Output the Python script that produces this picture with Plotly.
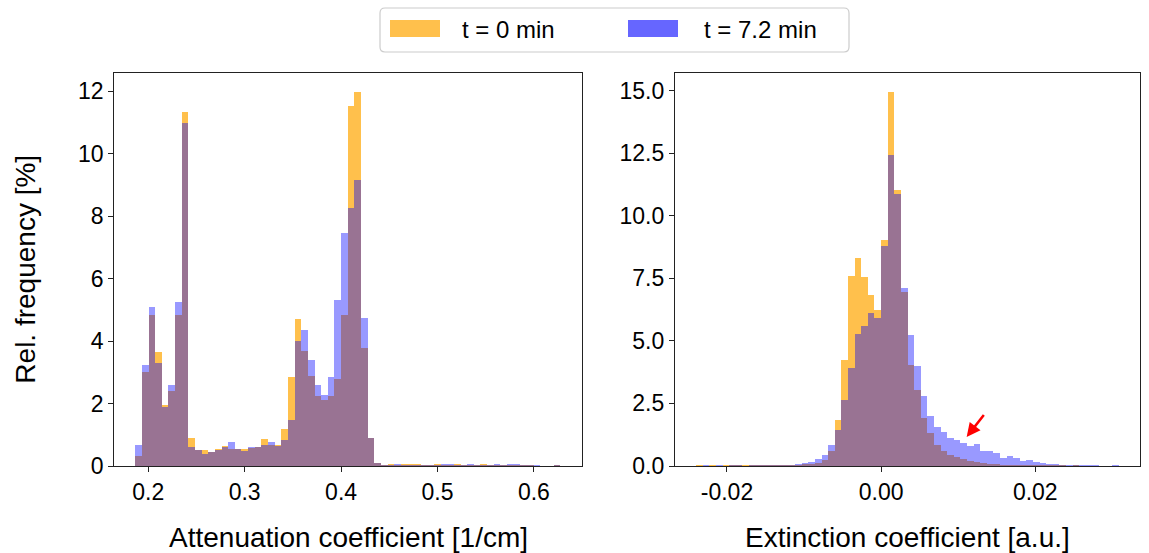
import numpy as np
import plotly.graph_objects as go

# ---------------- data ----------------
series_names = ["t = 0 min", "t = 7.2 min"]

# Left: attenuation coefficient histogram (64 bins)
att_start = 0.18683
att_width = 0.006886
att_t0 = [0.32, 3.01, 4.84, 3.63, 1.95, 2.38, 4.82, 11.33, 0.89, 0.51, 0.51, 0.45, 0.55, 0.62, 0.55, 0.52,
          0.55, 0.58, 0.60, 0.86, 0.65, 0.67, 1.17, 2.84, 4.70, 3.66, 2.86, 2.22, 2.11, 2.22, 2.78, 4.84,
          11.51, 11.98, 3.77, 0.88, 0.08, 0.02, 0.05, 0.02, 0.04, 0.04, 0.04, 0.01, 0.02, 0.04, 0.02, 0.03,
          0.04, 0.02, 0.02, 0.03, 0.07, 0.02, 0.02, 0.01, 0.01, 0.01, 0.01, 0.03, 0.0, 0.0, 0.0, 0.01]
att_t72 = [0.65, 3.22, 5.08, 3.29, 1.88, 2.59, 5.24, 10.98, 0.60, 0.51, 0.38, 0.44, 0.51, 0.60, 0.75, 0.53,
           0.48, 0.61, 0.60, 0.67, 0.75, 0.62, 0.81, 1.47, 4.01, 4.36, 3.40, 2.59, 2.27, 2.84, 5.30, 7.45,
           8.25, 9.16, 4.73, 0.90, 0.08, 0.02, 0.02, 0.04, 0.03, 0.03, 0.02, 0.01, 0.02, 0.03, 0.04, 0.04,
           0.03, 0.03, 0.04, 0.02, 0.03, 0.02, 0.04, 0.03, 0.04, 0.04, 0.02, 0.01, 0.01, 0.0, 0.0, 0.01]

# Right: extinction coefficient histogram (64 bins)
ext_start = -0.024
ext_width = 0.000857
ext_t0 = [0.01, 0.0, 0.01, 0.0, 0.01, 0.01, 0.01, 0.01, 0.01, 0.04, 0.01, 0.04, 0.02, 0.04, 0.03, 0.04,
          0.05, 0.07, 0.11, 0.21, 0.57, 1.84, 4.21, 7.56, 8.29, 7.53, 6.83, 6.23, 9.03, 14.94, 11.02, 6.92,
          4.03, 3.01, 1.90, 1.30, 0.84, 0.57, 0.44, 0.35, 0.27, 0.20, 0.13, 0.10, 0.06, 0.05, 0.04, 0.03,
          0.03, 0.02, 0.02, 0.02, 0.01, 0.01, 0.01, 0.01, 0.0, 0.01, 0.0, 0.0, 0.0, 0.0, 0.0, 0.0]
ext_t72 = [0.0, 0.01, 0.0, 0.01, 0.0, 0.01, 0.01, 0.0, 0.01, 0.01, 0.02, 0.01, 0.02, 0.02, 0.03, 0.05,
           0.10, 0.15, 0.27, 0.44, 0.84, 1.44, 2.64, 3.90, 5.27, 5.59, 6.12, 5.90, 8.79, 12.42, 10.86, 7.10,
           5.23, 4.00, 2.77, 2.00, 1.53, 1.33, 1.10, 1.04, 0.91, 0.77, 0.88, 0.60, 0.57, 0.51, 0.31, 0.39,
           0.31, 0.20, 0.24, 0.13, 0.10, 0.08, 0.05, 0.04, 0.03, 0.02, 0.02, 0.01, 0.01, 0.0, 0.0, 0.01]

att_ticks = [0.2, 0.3, 0.4, 0.5, 0.6]
att_ticklabels = ["0.2", "0.3", "0.4", "0.5", "0.6"]
att_yticks = [0, 2, 4, 6, 8, 10, 12]
ext_ticks = [-0.02, 0.0, 0.02]
ext_ticklabels = ["-0.02", "0.00", "0.02"]
ext_yticks = [0, 2.5, 5, 7.5, 10, 12.5, 15]
ext_yticklabels = ["0.0", "2.5", "5.0", "7.5", "10.0", "12.5", "15.0"]

x_titles = ["Attenuation coefficient [1/cm]", "Extinction coefficient [a.u.]"]
y_title = "Rel. frequency [%]"

# ---------------- styling ----------------
W, H = 1149, 553
FONT = "Liberation Sans, Arial, Helvetica, sans-serif"
C0 = "rgba(255,165,0,0.7)"
C1 = "rgba(0,0,255,0.4)"
L0 = "rgba(255,165,0,0.7)"
L1 = "rgba(0,0,255,0.6)"
AX = "#222222"


def pxx(x):
    return x / W


def pyy(y):
    return 1 - y / H


fig = go.Figure()


def add_hist(vals, start, width, color, name, xa, ya):
    fig.add_trace(go.Bar(
        y=vals, x0=start + width / 2, dx=width, width=width,
        marker=dict(color=color, line=dict(width=0)),
        name=name, showlegend=False, xaxis=xa, yaxis=ya, hoverinfo="x+y"))


add_hist(att_t0, att_start, att_width, C0, series_names[0], "x", "y")
add_hist(att_t72, att_start, att_width, C1, series_names[1], "x", "y")
add_hist(ext_t0, ext_start, ext_width, C0, series_names[0], "x2", "y2")
add_hist(ext_t72, ext_start, ext_width, C1, series_names[1], "x2", "y2")


def span(start, width, n, m=0.05):
    lo, hi = start, start + width * n
    d = (hi - lo) * m
    return [lo - d, hi + d]


common = dict(showgrid=False, zeroline=False, showline=True, mirror=True, linecolor=AX, linewidth=1.3,
              ticks="outside", ticklen=5, tickwidth=1.2, tickcolor=AX,
              tickfont=dict(family=FONT, size=23, color="black"), automargin=False)

ydom = [pyy(466), pyy(73.3)]
fig.update_layout(
    width=W, height=H, margin=dict(l=0, r=0, t=0, b=0),
    paper_bgcolor="white", plot_bgcolor="white",
    barmode="overlay", bargap=0, showlegend=False,
    font=dict(family=FONT, color="black"),
    xaxis=dict(domain=[pxx(114.3), pxx(581.7)], range=span(att_start, att_width, len(att_t0)),
               tickvals=att_ticks, ticktext=att_ticklabels, anchor="y", **common),
    yaxis=dict(domain=ydom, range=[0, max(max(att_t0), max(att_t72)) * 1.05],
               tickvals=att_yticks, anchor="x", **common),
    xaxis2=dict(domain=[pxx(675), pxx(1140)], range=span(ext_start, ext_width, len(ext_t0)),
                tickvals=ext_ticks, ticktext=ext_ticklabels, anchor="y2", **common),
    yaxis2=dict(domain=ydom, range=[0, max(max(ext_t0), max(ext_t72)) * 1.05],
                tickvals=ext_yticks, ticktext=ext_yticklabels, anchor="x2", **common),
)

ann = []
# axis titles
ann.append(dict(text=x_titles[0], xref="x domain", yref="paper", x=0.5, y=pyy(537),
                xanchor="center", yanchor="middle", showarrow=False, font=dict(size=28, family=FONT)))
ann.append(dict(text=x_titles[1], xref="x2 domain", yref="paper", x=0.5, y=pyy(537),
                xanchor="center", yanchor="middle", showarrow=False, font=dict(size=28, family=FONT)))
ann.append(dict(text=y_title, xref="paper", yref="y domain", x=pxx(26), y=0.5, textangle=-90,
                xanchor="center", yanchor="middle", showarrow=False, font=dict(size=28, family=FONT)))
# red arrow
ann.append(dict(text="", x=0.0111, y=1.16, ax=0.01348, ay=2.10, xref="x2", yref="y2",
                axref="x2", ayref="y2", showarrow=True, arrowhead=2, arrowsize=1.1,
                arrowwidth=2.5, arrowcolor="red", standoff=0, startstandoff=0))

# legend (manual, wide swatches like the reference)
shapes = []
x0, x1, y0, y1 = pxx(380), pxx(849), pyy(52), pyy(8)
rx, ry = 5 / W, 5 / H
path = (f"M {x0+rx},{y1} L {x1-rx},{y1} Q {x1},{y1} {x1},{y1-ry} L {x1},{y0+ry} "
        f"Q {x1},{y0} {x1-rx},{y0} L {x0+rx},{y0} Q {x0},{y0} {x0},{y0+ry} L {x0},{y1-ry} "
        f"Q {x0},{y1} {x0+rx},{y1} Z")
shapes.append(dict(type="path", xref="paper", yref="paper", path=path,
                   line=dict(color="#cccccc", width=1.2), fillcolor="white"))
for sx, tx, col, name in [(390, 460, L0, series_names[0]), (628, 702, L1, series_names[1])]:
    shapes.append(dict(type="rect", xref="paper", yref="paper", x0=pxx(sx), x1=pxx(sx + 50),
                       y0=pyy(37), y1=pyy(20), line=dict(width=0), fillcolor=col))
    ann.append(dict(text=name, xref="paper", yref="paper", x=pxx(tx), y=pyy(29.5), xanchor="left",
                    yanchor="middle", showarrow=False, font=dict(size=24, family=FONT)))

fig.update_layout(annotations=ann, shapes=shapes)

fig.write_html("out.html", config={"displayModeBar": False},
               post_script="document.body.style.margin='0px';document.body.style.overflow='hidden';")
